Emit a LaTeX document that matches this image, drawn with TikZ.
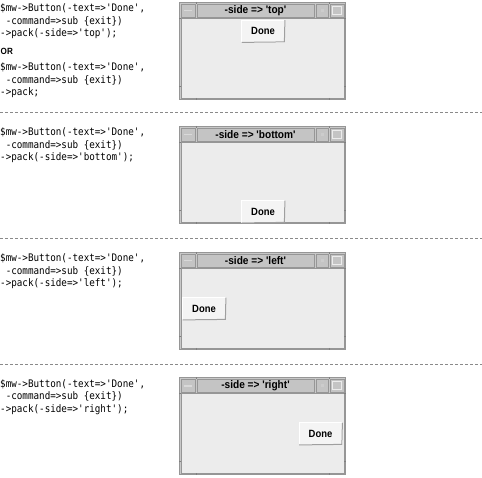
\documentclass[tikz,border=0pt]{standalone}
\usepackage{fontspec}
\setmonofont[FakeStretch=0.89]{DejaVu Sans Mono}
\newfontfamily\uifont[FakeStretch=0.9]{Liberation Sans}
\newfontfamily\titlefont[FakeStretch=0.92]{Liberation Sans}
\definecolor{winbg}{HTML}{ECECEC}
\definecolor{frame}{HTML}{C8C8C8}
\definecolor{frameline}{HTML}{969696}
\definecolor{titlebg}{HTML}{C4C4C4}
\definecolor{btnbg}{HTML}{F4F4F4}
\definecolor{dashcol}{HTML}{8A8A8A}
\tikzset{
  code/.style={anchor=base west, inner sep=0pt, font=\ttfamily\fontsize{10.4}{12}\selectfont},
  orlabel/.style={anchor=base west, inner sep=0pt, font=\uifont\bfseries\fontsize{9}{11}\selectfont},
  wtitle/.style={inner sep=0pt, font=\titlefont\bfseries\fontsize{11}{12}\selectfont},
  donebtn/.style={minimum width=43pt, minimum height=22pt, inner sep=0pt, fill=btnbg, draw=white, line width=0.8pt, font=\uifont\bfseries\fontsize{10.5}{12}\selectfont},
  sepline/.style={draw=dashcol, line width=1pt, dash pattern=on 3pt off 2pt},
}
\newcommand{\tkwin}[5]{%
  \begin{scope}[shift={(0,#2)}]
    % outer frame
    \fill[frame] (179,0) rectangle (346,98);
    \draw[frameline, line width=1pt] (179.5,0.5) rectangle (345.5,97.5);
    % title bar pieces
    \fill[titlebg] (181,2) rectangle (195,15);
    \draw[frameline, line width=0.7pt] (181,2) rectangle (195,15);
    \fill[white!70!gray] (184,8) rectangle (192,9.5);
    \fill[titlebg] (197,2) rectangle (314,15);
    \draw[frameline, line width=0.7pt] (197,2) rectangle (314,15);
    \fill[titlebg] (316,2) rectangle (328,15);
    \draw[frameline, line width=0.7pt] (316,2) rectangle (328,15);
    \fill[white!60!gray] (320.5,7) rectangle (323.5,10);
    \fill[titlebg] (330,2) rectangle (344,15);
    \draw[frameline, line width=0.7pt] (330,2) rectangle (344,15);
    \draw[white!85!gray, line width=0.8pt] (332.5,4.5) rectangle (341.5,12.5);
    % content area
    \fill[winbg] (181,16) rectangle (344,96);
    \draw[frameline, line width=0.7pt] (181,16) rectangle (344,96);
    % resize ticks
    \draw[gray, line width=0.8pt] (196,0) -- (196,2) (329,0) -- (329,2)
      (196,96) -- (196,98) (329,96) -- (329,98)
      (179,16) -- (181,16) (179,84) -- (181,84)
      (344,16) -- (346,16) (344,84) -- (346,84);
    \node[wtitle] (#1t) at (255.5,8.8) {#3};
    \node[donebtn] (#1b) at (#4,#5) {Done};
    \draw[gray!75, line width=1pt] ([xshift=0.5pt]#1b.south west) -- ([xshift=-0.5pt,yshift=0.5pt]#1b.south east) -- ([yshift=-0.5pt]#1b.north east);
  \end{scope}%
}
\begin{document}
\begin{tikzpicture}[x=1pt, y=-1pt]
\useasboundingbox (0,0) rectangle (482,478);

% section 1
\node[code] (c1a) at (0,12) {\$mw->Button(-text=>'Done',};
\node[code] (c1b) at (0,24.5) {\ -command=>sub \{exit\})};
\node[code] (c1c) at (0,37) {->pack(-side=>'top');};
\node[orlabel] (or) at (0.5,55) {OR};
\node[code] (c1d) at (0,71) {\$mw->Button(-text=>'Done',};
\node[code] (c1e) at (0,83.5) {\ -command=>sub \{exit\})};
\node[code] (c1f) at (0,96) {->pack;};
\tkwin{wa}{2}{-side => 'top'}{263}{29}

\coordinate (s1a) at (0,113); \coordinate (s1b) at (482,113);
\draw[sepline] (s1a) -- (s1b);

% section 2
\node[code] (c2a) at (0,136) {\$mw->Button(-text=>'Done',};
\node[code] (c2b) at (0,148.5) {\ -command=>sub \{exit\})};
\node[code] (c2c) at (0,161) {->pack(-side=>'bottom');};
\tkwin{wb}{126}{-side => 'bottom'}{263}{85.5}

\coordinate (s2a) at (0,239); \coordinate (s2b) at (482,239);
\draw[sepline] (s2a) -- (s2b);

% section 3
\node[code] (c3a) at (0,262) {\$mw->Button(-text=>'Done',};
\node[code] (c3b) at (0,274.5) {\ -command=>sub \{exit\})};
\node[code] (c3c) at (0,287) {->pack(-side=>'left');};
\tkwin{wc}{252}{-side => 'left'}{204}{56.5}

\coordinate (s3a) at (0,364); \coordinate (s3b) at (482,364);
\draw[sepline] (s3a) -- (s3b);

% section 4
\node[code] (c4a) at (0,387) {\$mw->Button(-text=>'Done',};
\node[code] (c4b) at (0,399.5) {\ -command=>sub \{exit\})};
\node[code] (c4c) at (0,412) {->pack(-side=>'right');};
\tkwin{wd}{377}{-side => 'right'}{320.5}{56.5}

\end{tikzpicture}
\end{document}
